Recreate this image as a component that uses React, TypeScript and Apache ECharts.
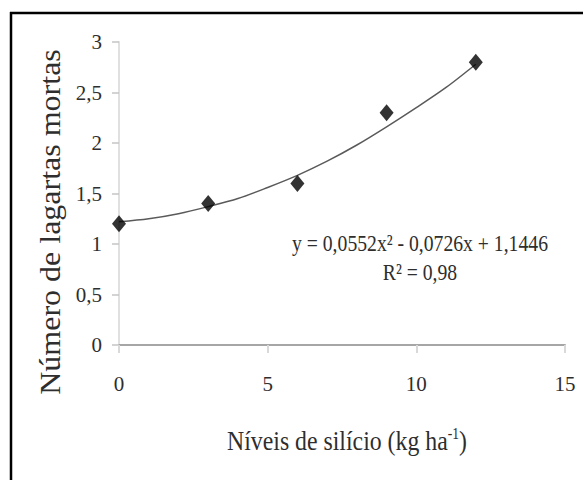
import React, { useEffect, useRef } from "react";
import * as echarts from "echarts";

const pointX = [0, 3, 6, 9, 12];
const pointY = [1.2, 1.4, 1.6, 2.3, 2.8];

// trend curve
const curveX = [0, 1, 2, 3, 4, 5, 6, 7, 8, 9, 10, 11, 12];
const curveY = [1.22, 1.25, 1.3, 1.37, 1.45, 1.56, 1.68, 1.82, 1.98, 2.16, 2.35, 2.55, 2.78];

const yTickLabels = ["0", "0,5", "1", "1,5", "2", "2,5", "3"];
const xTickLabels = ["0", "5", "10", "15"];

const equationText = "y = 0,0552x² - 0,0726x + 1,1446";
const r2Text = "R² = 0,98";
const yTitle = "Número de lagartas mortas";

const FONT = "'Liberation Serif', 'Times New Roman', serif";

export default function App() {
  const ref = useRef<HTMLDivElement>(null);
  useEffect(() => {
    if (!ref.current) return;
    const chart = echarts.init(ref.current, undefined, { renderer: "svg" });
    chart.setOption({
      animation: false,
      backgroundColor: "#fff",
      grid: { left: 119, right: 18, top: 42, bottom: 135 },
      xAxis: {
        type: "value",
        min: 0,
        max: 15,
        interval: 5,
        splitLine: { show: false },
        axisLine: { show: true, lineStyle: { color: "#a6a6a6", width: 2 } },
        axisTick: { show: true, length: 8, lineStyle: { color: "#d9d9d9", width: 2 } },
        axisLabel: {
          margin: 28,
          fontSize: 21,
          fontFamily: FONT,
          color: "#2e2e2e",
          formatter: (v: number) => xTickLabels[Math.round(v / 5)] ?? String(v),
        },
      },
      yAxis: {
        type: "value",
        min: 0,
        max: 3,
        interval: 0.5,
        splitLine: { show: false },
        axisLine: { show: true, lineStyle: { color: "#e0e0e0", width: 2 } },
        axisTick: { show: true, length: 7, lineStyle: { color: "#c4c4c4", width: 1.5 } },
        axisLabel: {
          margin: 17,
          fontSize: 21,
          fontFamily: FONT,
          color: "#2e2e2e",
          formatter: (v: number) => yTickLabels[Math.round(v / 0.5)] ?? String(v),
        },
      },
      series: [
        {
          type: "line",
          data: curveX.map((x, i) => [x, curveY[i]]),
          smooth: 0.3,
          showSymbol: false,
          symbol: "none",
          lineStyle: { color: "#5a5a5a", width: 1.5 },
          z: 2,
        },
        {
          type: "scatter",
          data: pointX.map((x, i) => [x, pointY[i]]),
          symbol: "diamond",
          symbolSize: [14, 17],
          itemStyle: { color: "#000" },
          z: 3,
        },
      ],
      graphic: [
        {
          type: "line",
          shape: { x1: 10, y1: 13, x2: 583, y2: 13 },
          style: { stroke: "#000", lineWidth: 2.5 },
        },
        {
          type: "line",
          shape: { x1: 11, y1: 12, x2: 11, y2: 480 },
          style: { stroke: "#000", lineWidth: 2.5 },
        },
        {
          type: "text",
          x: 51,
          y: 222,
          rotation: Math.PI / 2,
          scaleY: 0.9,
          style: {
            x: 0,
            y: 0,
            text: yTitle,
            fontSize: 32,
            fontFamily: FONT,
            fill: "#2e2e2e",
            align: "center",
            verticalAlign: "middle",
          },
        },
        {
          type: "text",
          x: 347,
          y: 441,
          scaleX: 0.85,
          style: {
            x: 0,
            y: 0,
            text: "{n|Níveis de silício (kg ha}{s|-1}{n|)}",
            fontFamily: FONT,
            fill: "#2e2e2e",
            align: "center",
            verticalAlign: "middle",
            rich: {
              n: { fontSize: 28, fontFamily: FONT, fill: "#2e2e2e", lineHeight: 30 },
              s: { fontSize: 16, fontFamily: FONT, fill: "#2e2e2e", verticalAlign: "top", lineHeight: 30 },
            },
          },
        },
        {
          type: "text",
          x: 420,
          y: 243,
          scaleX: 0.82,
          style: {
            x: 0,
            y: 0,
            text: equationText,
            fontSize: 24,
            fontFamily: FONT,
            fill: "#2e2e2e",
            align: "center",
            verticalAlign: "middle",
          },
        },
        {
          type: "text",
          x: 420,
          y: 272,
          scaleX: 0.82,
          style: {
            x: 0,
            y: 0,
            text: r2Text,
            fontSize: 24,
            fontFamily: FONT,
            fill: "#2e2e2e",
            align: "center",
            verticalAlign: "middle",
          },
        },
      ],
    });
    return () => chart.dispose();
  }, []);
  return (
    <div
      ref={ref}
      style={{ position: "absolute", left: 0, top: 0, width: 583, height: 480 }}
    />
  );
}
